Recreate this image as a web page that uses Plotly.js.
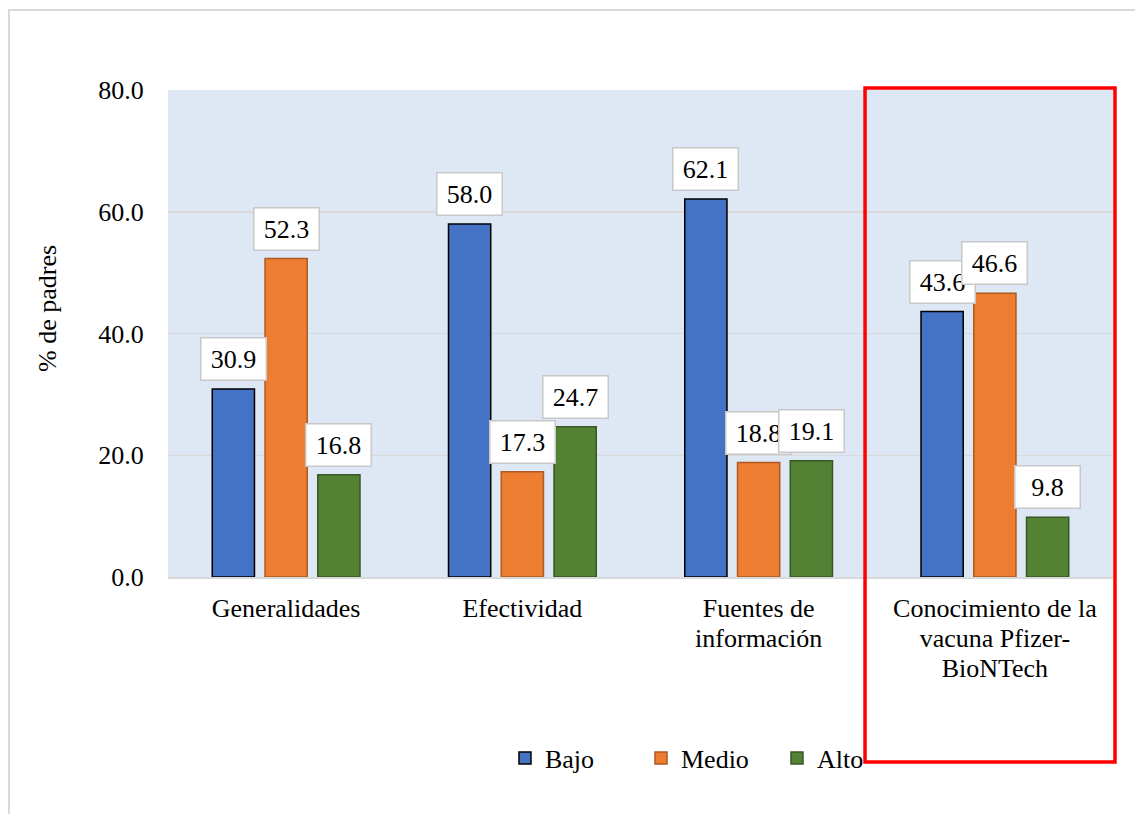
<!DOCTYPE html>
<html>
<head>
<meta charset="utf-8">
<script src="https://cdn.plot.ly/plotly-3.0.1.min.js"></script>
<style>
html,body{margin:0;padding:0;background:#fff;}
#chart{width:1135px;height:814px;}
</style>
</head>
<body>
<div id="chart"></div>
<script>
const categories = ["Generalidades", "Efectividad", "Fuentes de<br>información", "Conocimiento de la<br>vacuna Pfizer-<br>BioNTech"];
const seriesNames = ["Bajo", "Medio", "Alto"];
const bajo = [30.9, 58.0, 62.1, 43.6];
const medio = [52.3, 17.3, 18.8, 46.6];
const alto = [16.8, 24.7, 19.1, 9.8];
const yTicks = [0, 20, 40, 60, 80];
const yTitle = "% de padres";

const fills = ["#4472c4", "#ed7d31", "#548235"];
const edges = ["#000000", "#ae5a21", "#385723"];
const values = [bajo, medio, alto];
const font = "Times New Roman, Liberation Serif, DejaVu Serif, serif";
const FS = 26;

const traces = values.map((v, i) => ({
  type: "bar",
  name: seriesNames[i],
  x: categories,
  y: v,
  marker: {color: fills[i], line: {color: edges[i], width: 1.5}},
  hoverinfo: "skip"
}));

const offsets = [-52.7, 0, 52.7];
const annotations = [];
values.forEach((v, i) => {
  v.forEach((val, j) => {
    annotations.push({
      x: categories[j], y: val, xref: "x", yref: "y",
      text: val.toFixed(1),
      showarrow: false,
      xshift: offsets[i], yshift: 8,
      yanchor: "bottom", xanchor: "center",
      width: 56, height: 33,
      font: {family: font, size: FS, color: "#000"},
      bgcolor: "#ffffff", bordercolor: "#c8c8c8", borderwidth: 1.5, borderpad: 4
    });
  });
});
annotations.push({
  x: -0.127, y: 0.5524, xref: "paper", yref: "paper",
  text: yTitle, textangle: -90, showarrow: false,
  xanchor: "center", yanchor: "middle",
  font: {family: font, size: FS, color: "#000"}
});

const layout = {
  width: 1135, height: 814,
  margin: {l: 168, r: 22, t: 90, b: 237},
  paper_bgcolor: "#ffffff",
  plot_bgcolor: "#dde8f4",
  barmode: "group",
  bargap: 0.33,
  bargroupgap: 0.2,
  font: {family: font, color: "#000"},
  xaxis: {
    type: "category",
    tickfont: {family: font, size: FS, color: "#000"},
    showline: true, linecolor: "#d9d9d9", linewidth: 1.5,
    ticks: "", showgrid: false,
    ticklabelstandoff: 7
  },
  yaxis: {
    range: [0, 80],
    tickvals: yTicks,
    tickformat: ".1f",
    tickfont: {family: font, size: FS, color: "#000"},
    ticks: "outside", ticklen: 18, tickcolor: "rgba(0,0,0,0)",
    showgrid: true, gridcolor: "#d9d9d9", gridwidth: 1.5,
    zeroline: false, showline: false
  },
  legend: {
    orientation: "h",
    x: 0.3566, xanchor: "left",
    y: -0.372, yanchor: "middle",
    bgcolor: "rgba(0,0,0,0)",
    font: {family: font, size: FS, color: "#000"},
    itemwidth: 30,
    entrywidth: 91,
    entrywidthmode: "pixels",
    traceorder: "normal"
  },
  showlegend: true,
  annotations: annotations,
  shapes: [
    {type: "rect", xref: "paper", yref: "paper", x0: -0.1683, x1: 1.04, y0: -0.52, y1: 1.1643,
     line: {color: "#d9d9d9", width: 2}, fillcolor: "rgba(0,0,0,0)", layer: "below"},
    {type: "rect", xref: "paper", yref: "paper", x0: 0.7376, x1: 1.0021, y0: -0.3799, y1: 1.0041,
     line: {color: "#ff0000", width: 3.5}, fillcolor: "rgba(0,0,0,0)", layer: "above"}
  ]
};

Plotly.newPlot("chart", traces, layout, {displayModeBar: false, staticPlot: true}).then(gd => {
  gd.querySelectorAll(".xtick text tspan.line").forEach(t => {
    const dy = t.getAttribute("dy");
    if (dy && dy.endsWith("em")) {
      const v = parseFloat(dy);
      if (v !== 0) t.setAttribute("dy", (v * 1.15 / 1.3).toFixed(3) + "em");
    }
  });
});
</script>
</body>
</html>
